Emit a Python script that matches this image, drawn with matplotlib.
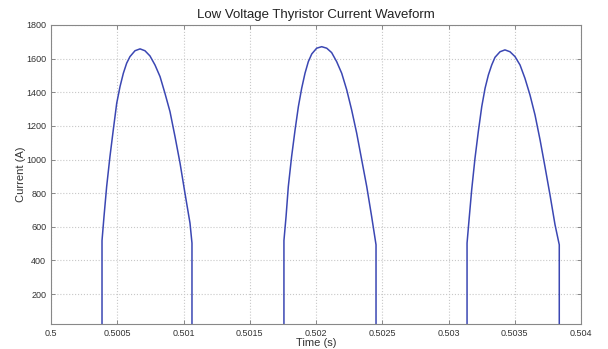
import matplotlib
matplotlib.use("Agg")
import matplotlib.pyplot as plt

plt.rcParams['font.family'] = ['Liberation Sans', 'DejaVu Sans']

# Pulse 1 (time in s, current in A)
t1 = [0.500385, 0.500385, 0.500400, 0.500420, 0.500445, 0.500470, 0.500496,
      0.500521, 0.500546, 0.500571, 0.500596, 0.500634, 0.500672, 0.500709,
      0.500747, 0.500785, 0.500823, 0.500860, 0.500898, 0.500936, 0.500974,
      0.501011, 0.501049, 0.501064, 0.501064]
i1 = [0, 518, 661, 839, 1018, 1176, 1335, 1434, 1513, 1573, 1612, 1647, 1658,
      1647, 1616, 1562, 1493, 1394, 1285, 1136, 978, 800, 622, 503, 0]

# Pulse 2
t2 = [0.501758, 0.501758, 0.501774, 0.501791, 0.501816, 0.501842, 0.501867,
      0.501892, 0.501917, 0.501942, 0.501968, 0.502005, 0.502043, 0.502081,
      0.502118, 0.502156, 0.502194, 0.502232, 0.502269, 0.502307, 0.502345,
      0.502383, 0.502420, 0.502453, 0.502453]
i2 = [0, 518, 661, 839, 1018, 1176, 1315, 1424, 1513, 1582, 1628, 1662, 1671,
      1662, 1636, 1582, 1513, 1414, 1295, 1157, 998, 839, 661, 493, 0]

# Pulse 3
t3 = [0.503140, 0.503140, 0.503155, 0.503175, 0.503200, 0.503225, 0.503251,
      0.503276, 0.503301, 0.503326, 0.503351, 0.503389, 0.503426, 0.503464,
      0.503502, 0.503540, 0.503577, 0.503615, 0.503653, 0.503691, 0.503728,
      0.503766, 0.503804, 0.503836, 0.503836]
i3 = [0, 503, 641, 820, 1008, 1166, 1315, 1424, 1503, 1562, 1608, 1641, 1652,
      1641, 1612, 1562, 1483, 1384, 1265, 1117, 958, 790, 612, 493, 0]

x_ticks = [0.5, 0.5005, 0.501, 0.5015, 0.502, 0.5025, 0.503, 0.5035, 0.504]
x_labels = ['0.5', '0.5005', '0.501', '0.5015', '0.502', '0.5025', '0.503', '0.5035', '0.504']
y_ticks = [200, 400, 600, 800, 1000, 1200, 1400, 1600, 1800]

fig = plt.figure(figsize=(6.08, 3.49), dpi=100)
ax = fig.add_axes([51/608, 1-324/349, (581-51)/608, (324-25)/349])

color = '#3b47b3'
for t, i in ((t1, i1), (t2, i2), (t3, i3)):
    ax.plot(t, i, color=color, lw=1.1, solid_joinstyle='round')

ax.set_xlim(0.5, 0.504)
ax.set_ylim(22, 1800)
ax.set_xticks(x_ticks)
ax.set_xticklabels(x_labels)
ax.set_yticks(y_ticks)
ax.grid(True, color='#c8c8c8', linestyle=':', linewidth=0.8)
ax.tick_params(direction='in', length=3, width=0.6, colors='#777777',
               labelcolor='#333333', labelsize=6.5, top=True, right=True)
for s in ax.spines.values():
    s.set_color('#888888')
    s.set_linewidth(0.8)

ax.set_title('Low Voltage Thyristor Current Waveform', fontsize=9.5, color='#222222', pad=5)
ax.set_xlabel('Time (s)', fontsize=8, color='#333333', labelpad=0)
ax.set_ylabel('Current (A)', fontsize=8, color='#333333', labelpad=0)

fig.savefig('out.png', dpi=100, facecolor='white')
